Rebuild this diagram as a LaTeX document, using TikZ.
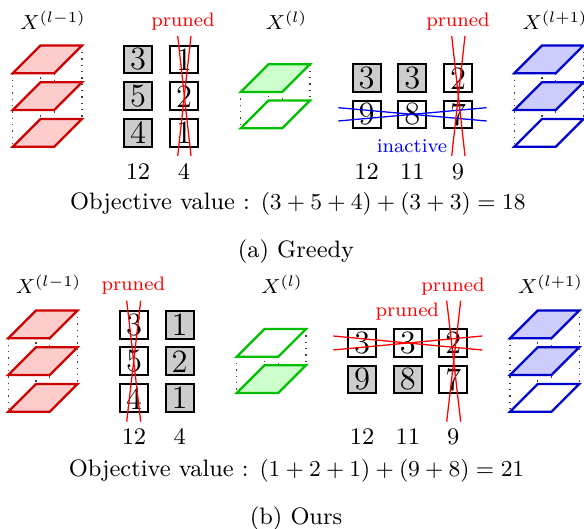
\documentclass[tikz,border=0pt]{standalone}
\usetikzlibrary{calc}
\newcommand\mylayer[3]{\draw[#3] (#1,#2) -- ++(41.5,0) -- ++(27.7,-27.7) -- ++(-41.5,0) -- cycle;}
\newcommand\mydots[3]{%
  \draw[dotted,black!75,line width=0.5pt] (#1,#2) -- (#1,#3)
    ({#1+41.5},#2) -- ({#1+41.5},#3)
    ({#1+27.7},{#2-27.7}) -- ({#1+27.7},{#3-27.7})
    ({#1+69.2},{#2-27.7}) -- ({#1+69.2},{#3-27.7});}
\begin{document}
\begin{tikzpicture}[x=0.3937pt,y=-0.3937pt,
  cell/.style={draw=black,line width=0.8pt,minimum size=11pt,inner sep=0pt,font=\fontsize{12.8}{15}\selectfont},
  on/.style={cell,fill=black!20},
  off/.style={cell,fill=white},
  lbl/.style={font=\fontsize{9.35}{11}\selectfont,anchor=base,inner sep=0pt},
  xlbl/.style={font=\fontsize{8.2}{10}\selectfont,anchor=base,inner sep=0pt},
  prn/.style={font=\fontsize{7.7}{9}\selectfont,text=red,anchor=base,inner sep=0pt},
  ina/.style={font=\fontsize{7.7}{9}\selectfont,text=blue,anchor=base,inner sep=0pt},
  strike/.style={red,line width=0.5pt},
  bstrike/.style={blue,line width=0.5pt},
  rl/.style={draw=red!80!black,line width=0.9pt,fill=red!20},
  gl/.style={draw=green!75!black,line width=0.9pt,fill=green!20},
  ge/.style={draw=green!75!black,line width=0.9pt,fill=white},
  bl/.style={draw=blue!80!black,line width=0.9pt,fill=blue!20},
  be/.style={draw=blue!80!black,line width=0.9pt,fill=white}]
\useasboundingbox (0,0) rectangle (584,529);

% ================= (a) Greedy =================
\mydots{12.7}{73.3}{146.7}
\mylayer{12.7}{146.7}{rl}
\mylayer{12.7}{110}{rl}
\mylayer{12.7}{73.3}{rl}
\mydots{240.7}{92}{128.3}
\mylayer{240.7}{128.3}{ge}
\mylayer{240.7}{92}{gl}
\mydots{514.3}{73.3}{146.7}
\mylayer{514.3}{146.7}{be}
\mylayer{514.3}{110}{bl}
\mylayer{514.3}{73.3}{bl}

\node[xlbl] (xa1) at (53,30) {$X^{(l-1)}$};
\node[xlbl] (xa2) at (286.5,30) {$X^{(l)}$};
\node[xlbl] (xa3) at (555,30) {$X^{(l+1)}$};

\node[on]  (a11) at (138,59.5) {3};
\node[on]  (a21) at (138,96.2) {5};
\node[on]  (a31) at (138,132.9) {4};
\node[off] (a12) at (184,59.5) {1};
\node[off] (a22) at (184,96.2) {2};
\node[off] (a32) at (184,132.9) {1};
\node[lbl] (na1) at (138,180) {12};
\node[lbl] (na2) at (184,180) {4};
\node[prn] (pa1) at (183,26.5) {pruned};
\coordinate (sa1) at (177.7,36);
\coordinate (sa2) at (191,156);
\coordinate (sa3) at (191,36);
\coordinate (sa4) at (177.7,156);
\draw[strike] (sa1) -- (sa2);
\draw[strike] (sa3) -- (sa4);

\node[on]  (b11) at (366.7,78.2) {3};
\node[on]  (b12) at (412.3,78.2) {3};
\node[off] (b13) at (458,78.2) {2};
\node[off] (b21) at (366.7,114.5) {9};
\node[off] (b22) at (412.3,114.5) {8};
\node[off] (b23) at (458,114.5) {7};
\node[lbl] (nb1) at (366.7,180) {12};
\node[lbl] (nb2) at (412.3,180) {11};
\node[lbl] (nb3) at (458,180) {9};
\node[prn] (pa2) at (458,26.5) {pruned};
\node[ina] (ia) at (412,152.7) {inactive};
\coordinate (sb1) at (338.3,107.7);
\coordinate (sb2) at (486.7,121);
\coordinate (sb3) at (338.3,121);
\coordinate (sb4) at (486.7,107.7);
\draw[bstrike] (sb1) -- (sb2);
\draw[bstrike] (sb3) -- (sb4);
\coordinate (sc1) at (451.7,36);
\coordinate (sc2) at (465,156);
\coordinate (sc3) at (465,36);
\coordinate (sc4) at (451.7,156);
\draw[strike] (sc1) -- (sc2);
\draw[strike] (sc3) -- (sc4);

\node[lbl] (obja) at (298,210) {Objective value : $(3+5+4)+(3+3)=18$};
\node[lbl] (capa) at (296,257.5) {(a) Greedy};

% ================= (b) Ours =================
\mydots{8.3}{338.3}{411.7}
\mylayer{8.3}{411.7}{rl}
\mylayer{8.3}{375}{rl}
\mylayer{8.3}{338.3}{rl}
\mydots{236.7}{356.7}{393}
\mylayer{236.7}{393}{gl}
\mylayer{236.7}{356.7}{ge}
\mydots{510}{338.3}{411.7}
\mylayer{510}{411.7}{be}
\mylayer{510}{375}{bl}
\mylayer{510}{338.3}{bl}

\node[xlbl] (xb1) at (48.5,293.3) {$X^{(l-1)}$};
\node[xlbl] (xb2) at (282,293.3) {$X^{(l)}$};
\node[xlbl] (xb3) at (550.5,293.3) {$X^{(l+1)}$};

\node[off] (c11) at (134,324.7) {3};
\node[off] (c21) at (134,361.4) {5};
\node[off] (c31) at (134,398.1) {4};
\node[on]  (c12) at (179.7,324.7) {1};
\node[on]  (c22) at (179.7,361.4) {2};
\node[on]  (c32) at (179.7,398.1) {1};
\node[lbl] (nc1) at (134,445) {12};
\node[lbl] (nc2) at (179.7,445) {4};
\node[prn] (pb1) at (133.3,291) {pruned};
\coordinate (sd1) at (126.7,300.7);
\coordinate (sd2) at (140.7,421.7);
\coordinate (sd3) at (140.7,300.7);
\coordinate (sd4) at (126.7,421.7);
\draw[strike] (sd1) -- (sd2);
\draw[strike] (sd3) -- (sd4);

\node[off] (d11) at (362.2,342.8) {3};
\node[off] (d12) at (407.8,342.8) {3};
\node[off] (d13) at (453.3,342.8) {2};
\node[on]  (d21) at (362.2,379.5) {9};
\node[on]  (d22) at (407.8,379.5) {8};
\node[off] (d23) at (453.3,379.5) {7};
\node[lbl] (nd1) at (362.2,445) {12};
\node[lbl] (nd2) at (407.8,445) {11};
\node[lbl] (nd3) at (453.3,445) {9};
\node[prn] (pb2) at (453,291.7) {pruned};
\node[prn] (pb3) at (407.3,316.7) {pruned};
\coordinate (se1) at (333.3,336);
\coordinate (se2) at (482.3,350);
\coordinate (se3) at (333.3,350);
\coordinate (se4) at (482.3,336);
\draw[strike] (se1) -- (se2);
\draw[strike] (se3) -- (se4);
\coordinate (sf1) at (446.7,300.7);
\coordinate (sf2) at (460.7,421.7);
\coordinate (sf3) at (460.7,300.7);
\coordinate (sf4) at (446.7,421.7);
\draw[strike] (sf1) -- (sf2);
\draw[strike] (sf3) -- (sf4);

\node[lbl] (objb) at (296.7,476.7) {Objective value : $(1+2+1)+(9+8)=21$};
\node[lbl] (capb) at (296,525) {(b) Ours};
\end{tikzpicture}
\end{document}
